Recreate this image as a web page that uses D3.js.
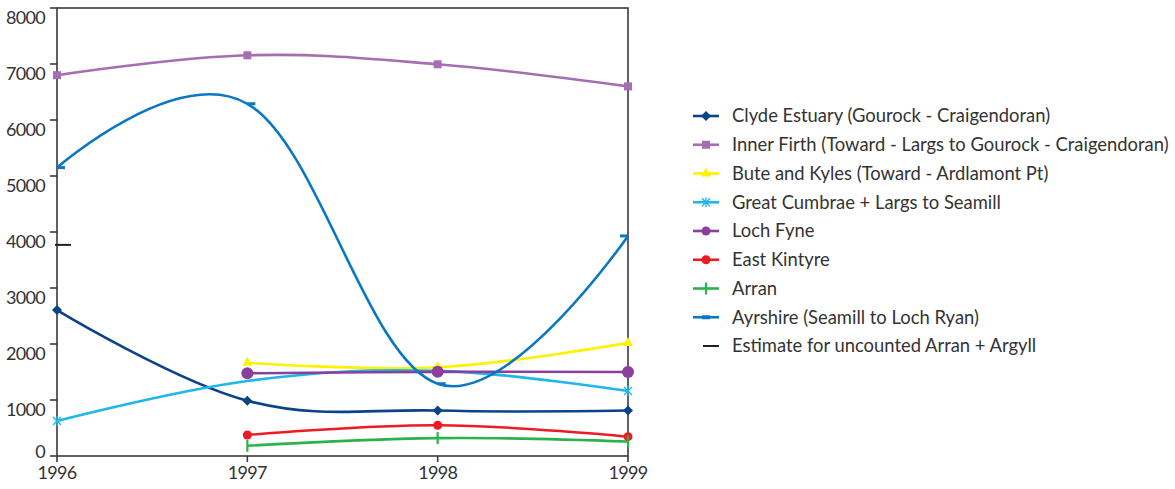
<!DOCTYPE html>
<html lang="en">
<head>
<meta charset="UTF-8">
<title>Counts 1996-1999</title>
<script src="https://d3js.org/d3.v7.min.js"></script>
<style>
  body { margin: 0; background: #fff; }
  #chart text { font-family: Lato, "Open Sans", sans-serif; fill: #333; }
  #chart .tick-label { font-size: 18px; letter-spacing: -0.7px; }
  #chart .legend-label { font-size: 18.4px; }
</style>
</head>
<body>
<div id="chart"></div>
<script>
var years = [1996, 1997, 1998, 1999];
var yTicks = [0, 1000, 2000, 3000, 4000, 5000, 6000, 7000, 8000];

var clyde       = [2605, 988, 812, 812];
var innerFirth  = [6800, 7155, 6995, 6600];
var bute        = [null, 1665, 1585, 2020];
var cumbrae     = [625, 1340, 1520, 1160];
var lochFyne    = [null, 1478, 1503, 1500];
var eastKintyre = [null, 375, 550, 345];
var arran       = [null, 182, 320, 258];
var ayrshire    = [5150, 6290, 1290, 3930];
var estimate    = [3770, null, null, null];

var seriesNames = [
  "Clyde Estuary (Gourock - Craigendoran)",
  "Inner Firth (Toward - Largs to Gourock - Craigendoran)",
  "Bute and Kyles (Toward - Ardlamont Pt)",
  "Great Cumbrae + Largs to Seamill",
  "Loch Fyne",
  "East Kintyre",
  "Arran",
  "Ayrshire (Seamill to Loch Ryan)",
  "Estimate for uncounted Arran + Argyll"
];

function drawChart() {
  var svgW = 1175, svgH = 489;
  var margin = {top: 8, right: 547, bottom: 33, left: 57},
      w = svgW - margin.left - margin.right,
      h = svgH - margin.top - margin.bottom;

  var svg = d3.select('#chart').append('svg')
      .attr('width', svgW).attr('height', svgH);
  var g = svg.append('g')
      .attr('transform', 'translate(' + margin.left + ',' + margin.top + ')');

  var x = d3.scaleLinear().domain([1996, 1999]).range([0, w]);
  var y = d3.scaleLinear().domain([0, 8000]).range([h, 0]);

  // the 1997 cumbrae marker is not shown in the original
  var series = [
    {name: seriesNames[0], values: clyde,       color: "#0b4387", marker: "diamond"},
    {name: seriesNames[1], values: innerFirth,  color: "#a66db2", marker: "square"},
    {name: seriesNames[2], values: bute,        color: "#fff200", marker: "triangle"},
    {name: seriesNames[3], values: cumbrae,     color: "#1fb6ea", marker: "star", hideAt: [1997]},
    {name: seriesNames[4], values: lochFyne,    color: "#8b3f9c", marker: "bigcircle"},
    {name: seriesNames[5], values: eastKintyre, color: "#ed1c24", marker: "circle"},
    {name: seriesNames[6], values: arran,       color: "#2bb24c", marker: "vbar"},
    {name: seriesNames[7], values: ayrshire,    color: "#0a77c4", marker: "dash"},
    {name: seriesNames[8], values: estimate,    color: "#231f20", marker: "estimate"}
  ];

  // frame + axes
  var axisCol = "#3a3a3a";
  g.append('rect').attr('x', 0).attr('y', 0).attr('width', w).attr('height', h)
    .attr('fill', 'none').attr('stroke', axisCol).attr('stroke-width', 1.6);

  var ya = g.append('g');
  ya.selectAll('line').data(yTicks).enter().append('line')
    .attr('x1', -7).attr('x2', 0)
    .attr('y1', d => y(d)).attr('y2', d => y(d))
    .attr('stroke', axisCol).attr('stroke-width', 1.6);
  ya.selectAll('text').data(yTicks).enter().append('text')
    .attr('class', 'tick-label')
    .attr('x', -12)
    .attr('y', d => Math.min(y(d) + 10, y(0) - 4))
    .attr('dy', '0.35em')
    .style('text-anchor', 'end')
    .text(d => d);

  var xa = g.append('g').attr('transform', 'translate(0,' + h + ')');
  xa.selectAll('line').data(years).enter().append('line')
    .attr('x1', d => x(d)).attr('x2', d => x(d))
    .attr('y1', 0).attr('y2', 6)
    .attr('stroke', axisCol).attr('stroke-width', 1.6);
  xa.selectAll('text').data(years).enter().append('text')
    .attr('class', 'tick-label')
    .attr('x', d => x(d)).attr('y', 17).attr('dy', '0.35em')
    .style('text-anchor', 'middle')
    .text(d => d);

  var line = d3.line()
    .x(d => x(d.year)).y(d => y(d.value))
    .curve(d3.curveCardinal.tension(-0.12));

  function pts(s) {
    return years.map((yr, i) => ({year: yr, value: s.values[i]}))
                .filter(d => d.value != null);
  }

  function marker(sel, type, color, cx, cy) {
    if (type == "diamond") {
      sel.append('path').attr('d', 'M0,-5L5,0L0,5L-5,0Z')
        .attr('transform', 'translate(' + cx + ',' + cy + ')').attr('fill', color);
    } else if (type == "square") {
      sel.append('rect').attr('x', cx - 4).attr('y', cy - 4).attr('width', 8).attr('height', 8)
        .attr('fill', color);
    } else if (type == "triangle") {
      sel.append('path').attr('d', 'M0,-6L5,3L-5,3Z')
        .attr('transform', 'translate(' + cx + ',' + cy + ')').attr('fill', color);
    } else if (type == "star") {
      sel.append('path').attr('d', 'M-4,-4L4,4M-4,4L4,-4M0,-5L0,5')
        .attr('transform', 'translate(' + cx + ',' + cy + ')')
        .attr('stroke', color).attr('stroke-width', 1.3);
    } else if (type == "bigcircle") {
      sel.append('circle').attr('cx', cx).attr('cy', cy).attr('r', 6).attr('fill', color);
    } else if (type == "smallcircle") {
      sel.append('circle').attr('cx', cx).attr('cy', cy).attr('r', 4.5).attr('fill', color);
    } else if (type == "circle") {
      sel.append('circle').attr('cx', cx).attr('cy', cy).attr('r', 4.5).attr('fill', color);
    } else if (type == "vbar") {
      sel.append('line').attr('x1', cx).attr('x2', cx).attr('y1', cy - 6).attr('y2', cy + 6)
        .attr('stroke', color).attr('stroke-width', 2.2);
    } else if (type == "dash") {
      var x0 = Math.min(cx, w - 8);
      sel.append('line').attr('x1', x0).attr('x2', x0 + 8).attr('y1', cy).attr('y2', cy)
        .attr('stroke', color).attr('stroke-width', 3);
    } else if (type == "estimate") {
      sel.append('line').attr('x1', cx - 2).attr('x2', cx + 14).attr('y1', cy).attr('y2', cy)
        .attr('stroke', color).attr('stroke-width', 2);
    }
  }

  var plot = g.append('g');
  series.forEach(function(s) {
    var p = pts(s);
    if (p.length > 1) {
      plot.append('path').datum(p)
        .attr('d', line)
        .attr('fill', 'none')
        .attr('stroke', s.color)
        .attr('stroke-width', 2.6);
    }
  });
  series.forEach(function(s) {
    var mg = plot.append('g');
    pts(s).filter(d => !(s.hideAt || []).includes(d.year))
      .forEach(d => marker(mg, s.marker, s.color, x(d.year), y(d.value)));
  });

  // legend
  var lg = svg.append('g').attr('transform', 'translate(693,116)');
  series.forEach(function(s, i) {
    var row = lg.append('g').attr('transform', 'translate(0,' + (i * 28.75) + ')');
    if (s.marker == "estimate") {
      row.append('line').attr('x1', 10).attr('x2', 26).attr('y1', 0).attr('y2', 0)
        .attr('stroke', s.color).attr('stroke-width', 2);
    } else {
      row.append('line').attr('x1', 0).attr('x2', 26).attr('y1', 0).attr('y2', 0)
        .attr('stroke', s.color).attr('stroke-width', 2.6);
      if (s.marker == "dash") {
        row.append('line').attr('x1', 9).attr('x2', 17).attr('y1', 0).attr('y2', 0)
          .attr('stroke', s.color).attr('stroke-width', 4);
      } else {
        marker(row, s.marker == "bigcircle" ? "smallcircle" : s.marker, s.color, 13, 0);
      }
    }
    row.append('text').attr('class', 'legend-label')
      .attr('x', 39).attr('y', 0).attr('dy', '0.35em').text(s.name);
  });
}

drawChart();
</script>
</body>
</html>
